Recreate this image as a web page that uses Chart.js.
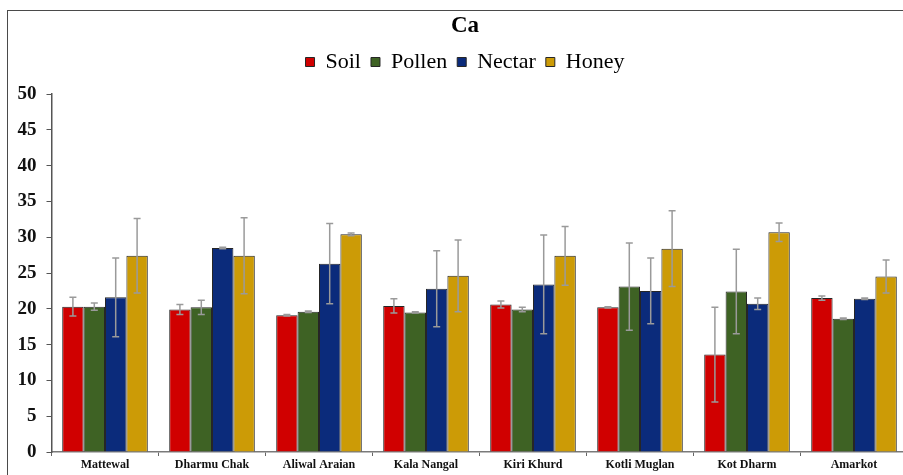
<!DOCTYPE html>
<html>
<head>
<meta charset="utf-8">
<script src="https://cdn.jsdelivr.net/npm/chart.js@4.4.1/dist/chart.umd.min.js"></script>
<style>
  html, body { margin: 0; padding: 0; background: #fff; overflow: hidden; width: 903px; height: 475px; }
  #frame { position: absolute; left: 7px; top: 10px; width: 960px; height: 520px;
           border-left: 1px solid #4a4a4a; border-top: 1px solid #4a4a4a; }
  #chart { position: absolute; left: 8px; top: 11px; }
</style>
</head>
<body>
<div id="frame"></div>
<canvas id="chart" width="914" height="471"></canvas>
<script>
// Calcium (Ca) content by site
const sites = ['Mattewal', 'Dharmu Chak', 'Aliwal Araian', 'Kala Nangal', 'Kiri Khurd', 'Kotli Muglan', 'Kot Dharm', 'Amarkot'];

const soil      = [20.3, 19.9, 19.1, 20.4, 20.6, 20.2, 13.6, 21.5];
const soilErr   = [1.3, 0.7, 0.1, 1.0, 0.5, 0.1, 6.6, 0.3];
const pollen    = [20.3, 20.2, 19.6, 19.5, 19.9, 23.1, 22.4, 18.6];
const pollenErr = [0.5, 1.0, 0.1, 0.1, 0.3, 6.1, 5.9, 0.1];
const nectar    = [21.6, 28.5, 26.3, 22.8, 23.4, 22.5, 20.7, 21.4];
const nectarErr = [5.5, 0.1, 5.6, 5.3, 6.9, 4.6, 0.8, 0.1];
const honey     = [27.4, 27.4, 30.4, 24.6, 27.4, 28.4, 30.7, 24.5];
const honeyErr  = [5.2, 5.3, 0.2, 5.0, 4.1, 5.3, 1.3, 2.3];

const yTicks = [0, 5, 10, 15, 20, 25, 30, 35, 40, 45, 50];

const serif = "'Liberation Serif', 'Times New Roman', serif";

// Symmetric error bars drawn on top of each bar
const errorBars = {
  id: 'errorBars',
  afterDatasetsDraw(chart) {
    const ctx = chart.ctx;
    const y = chart.scales.y;
    ctx.save();
    ctx.strokeStyle = '#9a9a9a';
    ctx.lineWidth = 1.5;
    chart.data.datasets.forEach((ds, di) => {
      const meta = chart.getDatasetMeta(di);
      meta.data.forEach((bar, i) => {
        const v = ds.data[i], e = ds.errors[i];
        const top = y.getPixelForValue(v + e);
        const bot = y.getPixelForValue(v - e);
        const x = bar.x, cap = 3.5;
        ctx.beginPath();
        ctx.moveTo(x, top); ctx.lineTo(x, bot);
        ctx.moveTo(x - cap, top); ctx.lineTo(x + cap, top);
        ctx.moveTo(x - cap, bot); ctx.lineTo(x + cap, bot);
        ctx.stroke();
      });
    });
    ctx.restore();
  }
};

const mk = (label, data, errors, color) => ({
  label, data, errors,
  backgroundColor: color,
  borderColor: '#262626',
  borderWidth: 1,
  categoryPercentage: 0.8,
  barPercentage: 1.0
});

new Chart(document.getElementById('chart'), {
  type: 'bar',
  data: {
    labels: sites,
    datasets: [
      mk('Soil', soil, soilErr, '#D00000'),
      mk('Pollen', pollen, pollenErr, '#3E6224'),
      mk('Nectar', nectar, nectarErr, '#0B2B7B'),
      mk('Honey', honey, honeyErr, '#CC9B06')
    ]
  },
  options: {
    responsive: false,
    devicePixelRatio: 1,
    animation: false,
    layout: { padding: 0 },
    plugins: {
      title: {
        display: true, text: 'Ca', color: '#000',
        font: { family: serif, size: 23, weight: 'bold', lineHeight: 1.2 },
        padding: { top: 1, bottom: 1.4 }
      },
      legend: {
        display: true, position: 'top',
        labels: {
          color: '#000', boxWidth: 9, boxHeight: 9, padding: 10,
          font: { family: serif, size: 22 }
        }
      },
      subtitle: {
        display: true, text: '', weight: 500,
        font: { size: 10, lineHeight: 1 },
        padding: { top: 1, bottom: 0 }
      },
      tooltip: { enabled: false }
    },
    scales: {
      x: {
        afterFit(s) { s.height = 30; },
        grid: { display: true, drawOnChartArea: false, drawTicks: true, tickLength: 4, color: '#666', offset: true },
        border: { display: true, color: '#7a7a7a', width: 1.5 },
        ticks: { color: '#111', padding: 2, maxRotation: 0, autoSkip: false,
                 font: { family: serif, size: 12, weight: 'bold' } }
      },
      y: {
        min: 0, max: 50,
        afterFit(s) { s.width = 43.5; },
        afterBuildTicks(s) { s.ticks = yTicks.map(v => ({ value: v })); },
        grid: { display: true, drawOnChartArea: false, drawTicks: true, tickLength: 5, color: '#555' },
        border: { display: true, color: '#555', width: 1.5 },
        ticks: { color: '#111', padding: 10,
                 font: { family: serif, size: 19, weight: 'bold' } }
      },
      // empty right-hand margin axis; keeps the plot edge clear of the title centring
      yRight: {
        position: 'right', display: true,
        afterFit(s) { s.width = 14.5; },
        grid: { display: false, drawTicks: false },
        border: { display: false },
        ticks: { display: false }
      }
    }
  },
  plugins: [errorBars]
});
</script>
</body>
</html>
